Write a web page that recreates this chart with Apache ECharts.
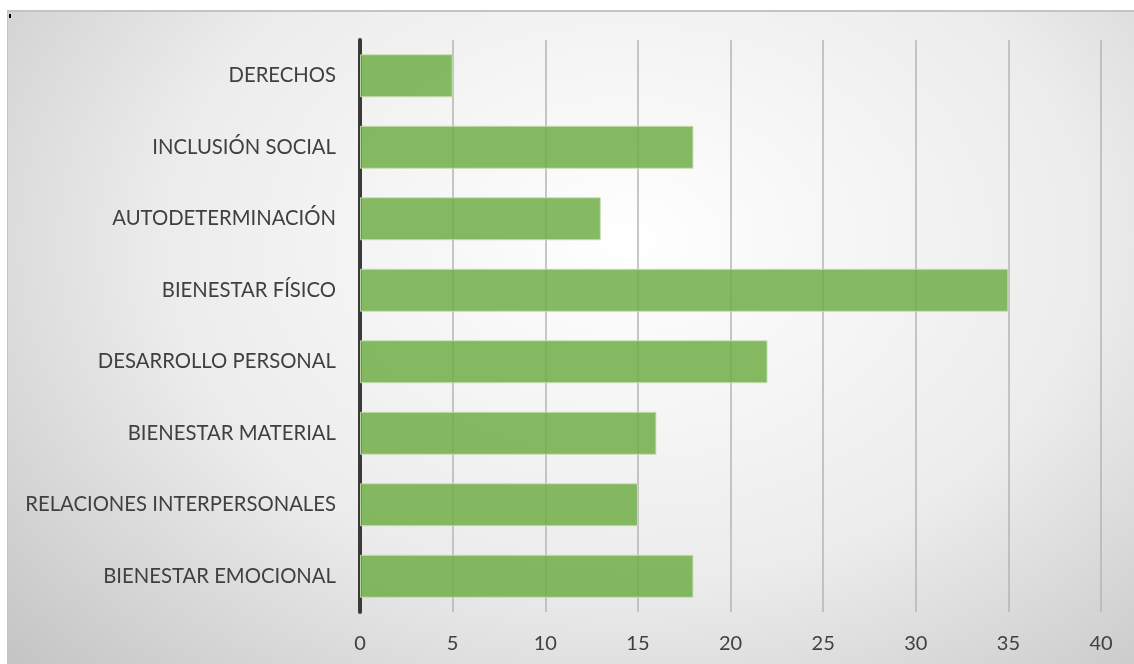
<!DOCTYPE html>
<html>
<head>
<meta charset="utf-8">
<script src="https://cdn.jsdelivr.net/npm/echarts@6/dist/echarts.min.js"></script>
<style>
  html, body { margin: 0; padding: 0; background: #fff; }
  #chart {
    position: absolute; left: 7px; top: 10px; width: 1127px; height: 654px;
    border-top: 2px solid #c4c4c4; border-left: 1px solid #c4c4c4;
    background: radial-gradient(ellipse 75% 95% at 55% 35%, #ffffff 0%, #ececec 55%, #c4c4c4 100%);
  }
</style>
</head>
<body>
<div id="chart"></div>
<script>
// categories, top to bottom as in the picture
const categories = [
  'DERECHOS',
  'INCLUSIÓN SOCIAL',
  'AUTODETERMINACIÓN',
  'BIENESTAR FÍSICO',
  'DESARROLLO PERSONAL',
  'BIENESTAR MATERIAL',
  'RELACIONES INTERPERSONALES',
  'BIENESTAR EMOCIONAL'
];
const values = [5, 18, 13, 35, 22, 16, 15, 18];
const xTicks = { min: 0, max: 40, interval: 5 };

const FONT = 'Lato, "Open Sans", sans-serif';
const TEXT = '#404040';

const chart = echarts.init(document.getElementById('chart'), null, { renderer: 'canvas' });
chart.setOption({
  animation: false,
  backgroundColor: 'transparent',
  grid: { left: 352, right: 34, top: 28, bottom: 54 },
  xAxis: {
    type: 'value',
    min: xTicks.min,
    max: xTicks.max,
    interval: xTicks.interval,
    axisLine: { show: false },
    axisTick: { show: false },
    axisLabel: { color: TEXT, fontSize: 20, fontFamily: FONT, margin: 22 },
    splitLine: { lineStyle: { color: '#b4b4b4', width: 1.5 } }
  },
  yAxis: {
    type: 'category',
    data: categories,
    inverse: true,
    axisLine: { show: true, lineStyle: { color: '#3a3a3a', width: 4 } },
    axisTick: { show: false },
    axisLabel: { color: TEXT, fontSize: 20.3, fontFamily: FONT, margin: 24 }
  },
  series: [{
    type: 'bar',
    data: values,
    barWidth: 43,
    itemStyle: {
      color: 'rgba(112,173,71,0.85)',
      borderColor: 'rgba(197,224,180,0.9)',
      borderWidth: 1
    }
  }],
  graphic: [{
    type: 'rect',
    left: 1, top: 2,
    shape: { width: 2, height: 4 },
    style: { fill: '#000' }
  }]
});
</script>
</body>
</html>
